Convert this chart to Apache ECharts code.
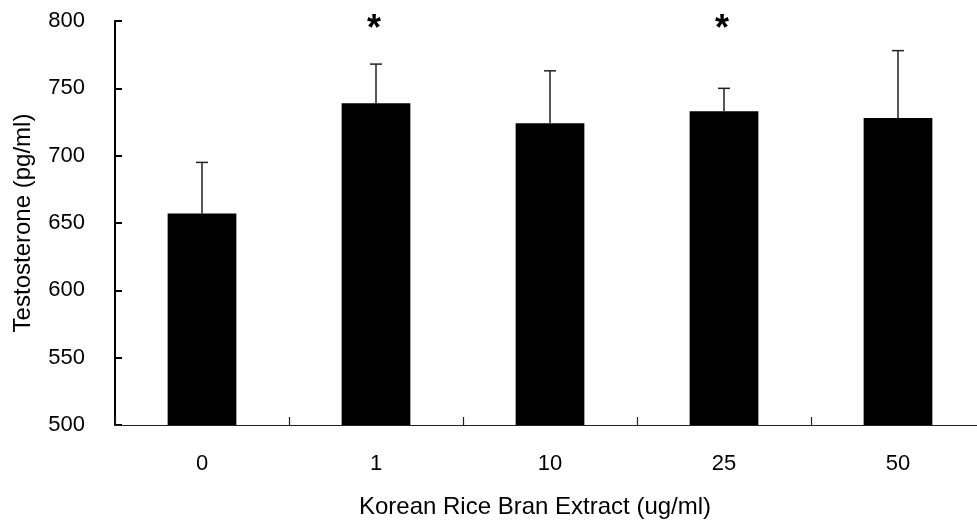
<!DOCTYPE html>
<html>
<head>
<meta charset="utf-8">
<script src="https://cdn.jsdelivr.net/npm/echarts@6/dist/echarts.min.js"></script>
<style>
html, body { margin: 0; padding: 0; background: #fff; }
#main { width: 977px; height: 522px; }
</style>
</head>
<body>
<div id="main"></div>
<script>
// doses of rice bran extract
var categories = ['0', '1', '10', '25', '50'];
// mean testosterone (pg/ml)
var means = [657, 739, 724, 733, 728];
// top of error bar (mean + SD)
var upper = [695, 768, 763, 750, 778];
// significance marks
var sigMarks = ['', '*', '', '*', ''];
var yTicks = [500, 550, 600, 650, 700, 750, 800];

var chart = echarts.init(document.getElementById('main'));

var errData = categories.map(function (c, i) {
  return [i, means[i], upper[i]];
});

var font = 'Liberation Sans, Arial, sans-serif';

var option = {
  backgroundColor: '#fff',
  animation: false,
  textStyle: { fontFamily: font },
  grid: { left: 115, top: 21, right: -8, bottom: 97, outerBoundsMode: 'none', containLabel: false },
  xAxis: {
    type: 'category',
    data: categories,
    axisLine: { lineStyle: { color: '#222', width: 1.2 } },
    axisTick: { show: true, inside: true, length: 8, lineStyle: { color: '#222', width: 1.2 } },
    axisLabel: { color: '#000', fontSize: 22, margin: 28 },
    z: 5
  },
  yAxis: {
    type: 'value',
    min: yTicks[0],
    max: yTicks[yTicks.length - 1],
    interval: 50,
    axisLine: { show: true, lineStyle: { color: '#000', width: 2 } },
    axisTick: { show: true, inside: true, length: 7, lineStyle: { color: '#000', width: 2 } },
    axisLabel: { color: '#000', fontSize: 22, margin: 30 },
    splitLine: { show: false },
    name: 'Testosterone (pg/ml)',
    nameLocation: 'middle',
    nameGap: 80,
    nameTextStyle: { color: '#000', fontSize: 24 }
  },
  graphic: [{
    type: 'text',
    x: 535,
    y: 507,
    style: {
      text: 'Korean Rice Bran Extract (ug/ml)', fill: '#000', fontSize: 24,
      align: 'center', verticalAlign: 'middle', fontFamily: font
    }
  }],
  series: [{
    type: 'bar',
    data: means,
    barWidth: '39.5%',
    itemStyle: { color: '#000' },
    z: 2
  }, {
    type: 'custom',
    data: errData,
    z: 3,
    clip: false,
    renderItem: function (params, api) {
      var i = api.value(0);
      var base = api.coord([i, api.value(1)]);
      var top = api.coord([i, api.value(2)]);
      var star = api.coord([i, 800]);
      var children = [{
        type: 'line',
        shape: { x1: base[0], y1: base[1], x2: top[0], y2: top[1] },
        style: { stroke: '#222', lineWidth: 1.5 }
      }, {
        type: 'line',
        shape: { x1: top[0] - 6, y1: top[1], x2: top[0] + 6, y2: top[1] },
        style: { stroke: '#222', lineWidth: 1.5 }
      }];
      if (sigMarks[i]) {
        children.push({
          type: 'text',
          style: {
            text: sigMarks[i], x: star[0] - 2, y: star[1] + 9,
            align: 'center', verticalAlign: 'middle',
            fontSize: 36, fontWeight: 'bold', fill: '#000',
            fontFamily: font
          }
        });
      }
      return { type: 'group', children: children };
    }
  }]
};

chart.setOption(option);
</script>
</body>
</html>
